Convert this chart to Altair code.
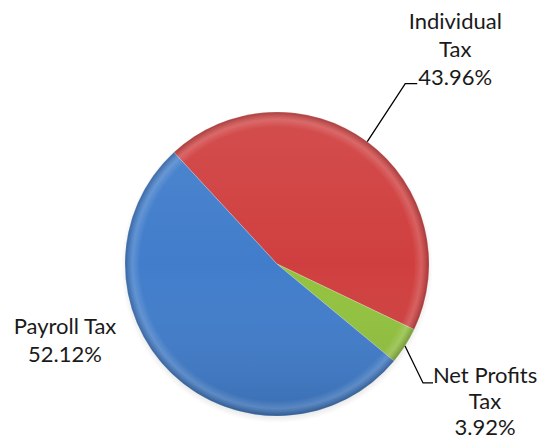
import math
import altair as alt
import pandas as pd

# ---- data ----
categories = ["Individual Tax", "Net Profits Tax", "Payroll Tax"]
shares = [43.96, 3.92, 52.12]
colors = ["#D03F3F", "#92C23E", "#417DCB"]
label_lines = [["Individual", "Tax"], ["Net Profits", "Tax"], ["Payroll Tax"]]

# ---- layout ----
W, H = 532, 432
CX, CY, R = 269, 256, 152
START = math.radians(317.3)
FONT = "Lato"
FS = 22
LH = 28
LH_LOW = 26
# leader line: elbow offset from slice edge (dx, dy), horizontal run (None = no leader)
leaders = [(38, -58, 12), (18, 37, 10), None]

total = sum(shares)
df = pd.DataFrame({"cat": categories, "share": shares, "ord": range(len(categories))})

pie = alt.Chart(df).mark_arc(outerRadius=R, stroke="#ffffff", strokeWidth=0.6, strokeOpacity=0.4).encode(
    theta=alt.Theta("share:Q", stack=True, scale=alt.Scale(range=[START, START + 2 * math.pi])),
    color=alt.Color("cat:N", scale=alt.Scale(domain=categories, range=colors), legend=None),
    order=alt.Order("ord:Q"),
    x=alt.value(CX),
    y=alt.value(CY),
)

shade_df = pd.DataFrame({"v": [1]})
full = dict(theta=alt.value(0), theta2=alt.value(2 * math.pi), x=alt.value(CX), y=alt.value(CY))

shadow = alt.Chart(shade_df).mark_arc(
    outerRadius=R + 4,
    fill=alt.Gradient(
        gradient="radial", x1=0.5, y1=0.5, x2=0.5, y2=0.5, r1=0, r2=0.5,
        stops=[alt.GradientStop(offset=0.9, color="rgba(0,0,0,0.18)"),
               alt.GradientStop(offset=1, color="rgba(0,0,0,0)")],
    ),
).encode(theta=alt.value(0), theta2=alt.value(2 * math.pi), x=alt.value(CX), y=alt.value(CY + 3))

shade = alt.Chart(shade_df).mark_arc(
    outerRadius=R,
    fill=alt.Gradient(
        gradient="linear", x1=0, y1=0, x2=0, y2=1,
        stops=[alt.GradientStop(offset=0, color="rgba(255,255,255,0.08)"),
               alt.GradientStop(offset=0.5, color="rgba(255,255,255,0)"),
               alt.GradientStop(offset=1, color="rgba(0,0,0,0.12)")],
    ),
).encode(**full)

rim = alt.Chart(shade_df).mark_arc(
    outerRadius=R,
    fill=alt.Gradient(
        gradient="radial", x1=0.5, y1=0.5, x2=0.5, y2=0.5, r1=0, r2=0.5,
        stops=[alt.GradientStop(offset=0, color="rgba(255,255,255,0)"),
               alt.GradientStop(offset=0.90, color="rgba(255,255,255,0)"),
               alt.GradientStop(offset=0.95, color="rgba(255,255,255,0.16)"),
               alt.GradientStop(offset=1, color="rgba(0,0,0,0.20)")],
    ),
).encode(**full)

# leader lines and labels derived from slice angles
line_rows, text_rows = [], []
cum = 0.0
for i, (cat, v) in enumerate(zip(categories, shares)):
    mid = START + 2 * math.pi * (cum + v / 2) / total
    cum += v
    pct = f"{v:.2f}%"
    lines = label_lines[i] + [pct]
    if leaders[i] is not None:
        odx, ody, run = leaders[i]
        ex, ey = CX + R * math.sin(mid), CY - R * math.cos(mid)
        bx, by = ex + odx, ey + ody
        hx = bx + run
        for k, (px, py) in enumerate([(ex, ey), (bx, by), (hx, by)]):
            line_rows.append({"g": cat, "k": k, "px": px, "py": py})
        if ody < 0:  # label above the elbow
            tx = hx + 38
            for j, t in enumerate(lines):
                text_rows.append({"t": t, "px": tx, "py": by - 6 - LH * (len(lines) - 1 - j)})
        else:  # label below the elbow
            tx = hx + 52
            for j, t in enumerate(lines):
                text_rows.append({"t": t, "px": tx, "py": by - 7 + LH_LOW * j})
    else:
        tx = CX - R - 60
        ty = CY + 63
        for j, t in enumerate(lines):
            text_rows.append({"t": t, "px": tx, "py": ty + LH * j})

leader_chart = alt.Chart(pd.DataFrame(line_rows)).mark_line(color="#000000", strokeWidth=1.3).encode(
    x=alt.X("px:Q", scale=None),
    y=alt.Y("py:Q", scale=None),
    detail="g:N",
    order="k:Q",
)

labels = alt.Chart(pd.DataFrame(text_rows)).mark_text(
    font=FONT, fontSize=FS, color="#1a1a1a", align="center", baseline="middle"
).encode(
    x=alt.X("px:Q", scale=None),
    y=alt.Y("py:Q", scale=None),
    text="t:N",
)

chart = alt.layer(shadow, pie, shade, rim, leader_chart, labels).properties(
    width=W, height=H, padding=0, autosize=alt.AutoSizeParams(type="none")
).configure_view(stroke=None)

chart.save("out.html", embed_options={"renderer": "svg", "actions": False})
